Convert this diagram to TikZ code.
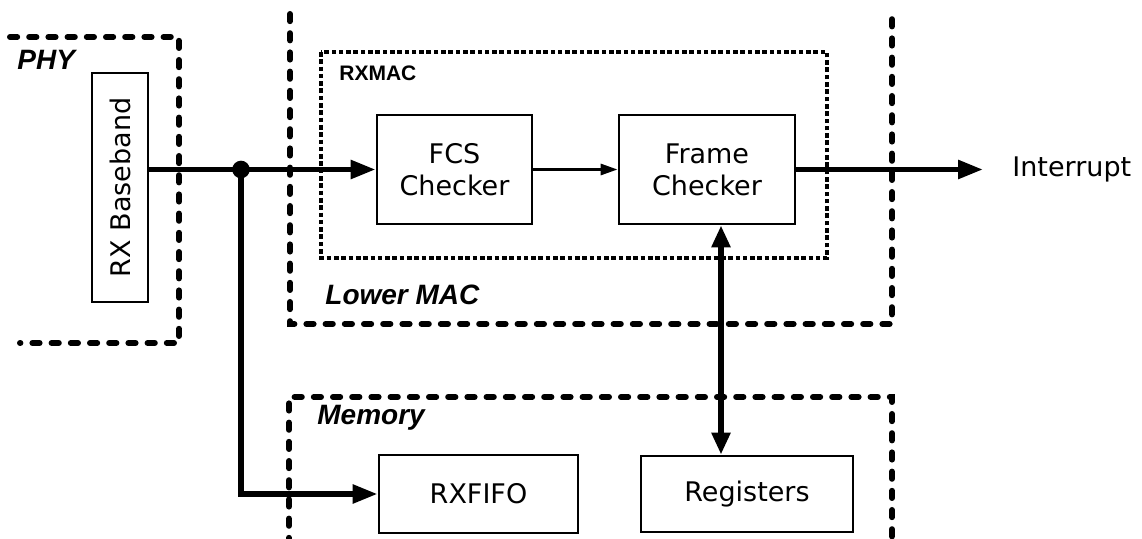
\documentclass[tikz,border=0pt]{standalone}
\usepackage{graphicx}
\usepackage{fontspec}
\setmainfont{DejaVu Sans}
\newfontfamily\grpfont{Liberation Sans}
\usetikzlibrary{arrows.meta}
\tikzset{>=stealth}
\tikzset{
  blk/.style={draw,line width=1.4pt,align=center,inner sep=0pt,font=\fontsize{13.5}{16}\selectfont},
  grp/.style={line width=3pt,dash pattern=on 3.6pt off 6pt,line cap=round},
  grplabel/.style={anchor=west,inner sep=0pt,font=\grpfont\fontsize{14}{16}\selectfont\bfseries\itshape},
  wire/.style={line width=2.8pt,-{Triangle[length=12.5pt,width=9pt]}},
}

\begin{document}
\begin{tikzpicture}[x=0.5pt,y=-0.5pt]
\useasboundingbox (0,0) rectangle (1142,539);
% the groups
\draw[grp] (10,37)--(179,37)--(179,343)--(20,343);
\draw[grp] (290,14)--(290,324)--(892,324)--(892,14);
\draw[grp] (289,545)--(289,397)--(892,397)--(892,545);
\draw[line width=1.6pt,dash pattern=on 2.3pt off 1.35pt] (321,52) rectangle (827,258);
\node[grplabel] (phy) at (17,60) {PHY};
\node[grplabel] (lower) at (325,295) {Lower MAC};
\node[grplabel] (mem) at (317,418) {Memory};
\node[anchor=west,inner sep=0pt,font=\grpfont\fontsize{10.5}{12}\selectfont\bfseries] (rxmac) at (339,73) {RXMAC};
% the blocks
\node[blk,minimum width=28pt,minimum height=114.5pt] (base) at (120,187.5) {\rotatebox{90}{RX Baseband}};
\node[blk,minimum width=77.5pt,minimum height=54.5pt] (fcs) at (454.5,169.5) {FCS\\Checker};
\node[blk,minimum width=88pt,minimum height=54.5pt] (frame) at (707,169.5) {Frame\\Checker};
\node[blk,minimum width=99.5pt,minimum height=39pt] (rxfifo) at (478.5,494) {RXFIFO};
\node[blk,minimum width=106pt,minimum height=38pt] (regs) at (747,494) {Registers};
\node[anchor=west,inner xsep=14.5pt,inner ysep=0pt,font=\fontsize{13.5}{16}\selectfont] (intr) at (983,169.5) {Interrupt};
% the wires
\coordinate (split) at (241,169.5);
\coordinate (tap) at (721,224);
\draw[wire] (base.east |- fcs.west) -- (fcs.west);
\fill (split) circle [radius=4.4pt];
\draw[wire] (split) |- (rxfifo.west);
\draw[line width=1.5pt,-{Triangle[length=8.5pt,width=5.5pt]}] (fcs) -- (frame);
\draw[wire] (frame) -- (intr);
\draw[line width=2.8pt,{Triangle[length=11pt,width=9pt]}-{Triangle[length=11pt,width=9pt]}] (frame.south -| tap) -- (regs.north -| tap);
\end{tikzpicture}
\end{document}
